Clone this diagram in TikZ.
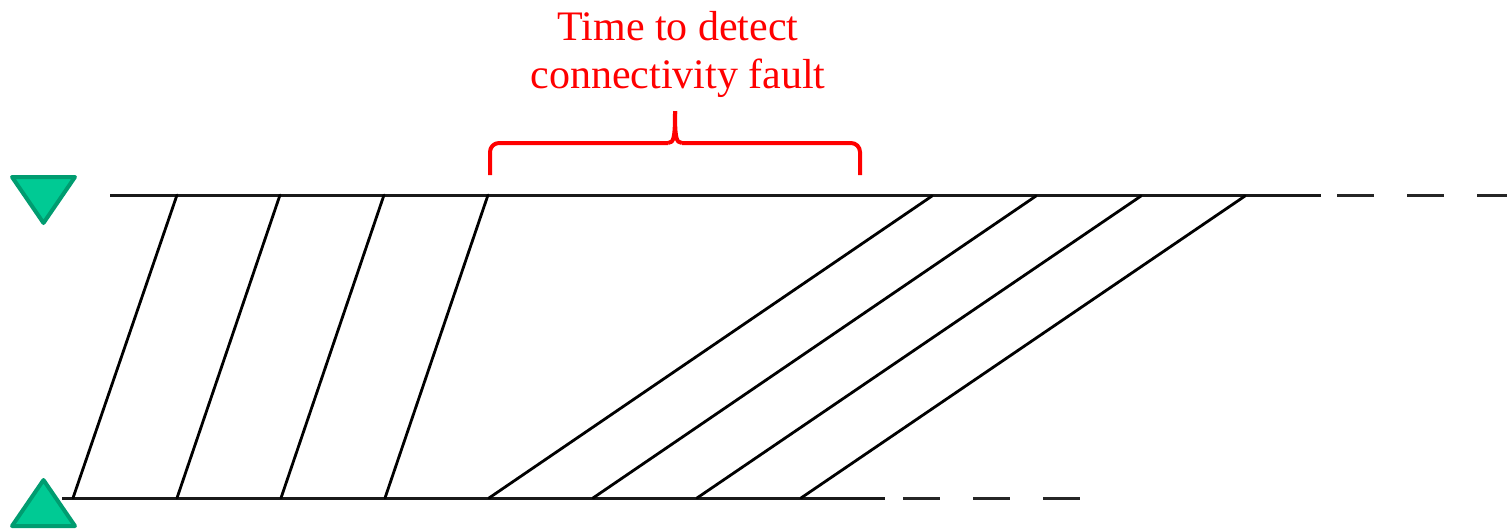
\documentclass[tikz,border=0pt]{standalone}
\usepackage{fontspec}
\setmainfont{Liberation Serif}
\definecolor{trifill}{RGB}{0,202,148}
\definecolor{triedge}{RGB}{0,156,112}
\definecolor{bracered}{RGB}{255,0,0}
\tikzset{
  msgline/.style={line width=2.8pt, black, line cap=round},
  axisline/.style={line width=3pt, black!90},
  dashline/.style={line width=3pt, black!85, dash pattern=on 37pt off 33pt},
  tri/.style={fill=trifill, draw=triedge, line width=4pt, line join=round},
  bracestyle/.style={draw=bracered, line width=4pt, line join=round},
}
\begin{document}
\begin{tikzpicture}[x=1pt, y=-1pt]
\useasboundingbox (0,0) rectangle (1507,531);
% axes
\coordinate (tL) at (110,195);
\coordinate (tR) at (1321,195);
\coordinate (tD) at (1337,195);
\coordinate (tE) at (1520,195);
\coordinate (bL) at (62,498);
\coordinate (bR) at (885,498);
\coordinate (bD) at (903,498);
\coordinate (bE) at (1080,498);
\draw[axisline] (tL) -- (tR);
\draw[dashline] (tD) -- (tE);
\draw[axisline] (bL) -- (bR);
\draw[dashline] (bD) -- (bE);
% messages, first group
\foreach \i/\bx/\tx in {1/73/177, 2/177/280, 3/281/384, 4/385/488}{
  \coordinate (ab\i) at (\bx,498);
  \coordinate (at\i) at (\tx,195);
  \draw[msgline] (ab\i) -- (at\i);
}
% messages, second group
\foreach \i/\bx/\tx in {1/489/932, 2/593/1036, 3/697/1141, 4/801/1245}{
  \coordinate (bb\i) at (\bx,498);
  \coordinate (bt\i) at (\tx,196);
  \draw[msgline] (bb\i) -- (bt\i);
}
% triangles
\draw[tri] (12,177) -- (75,177) -- (43.5,223) -- cycle;
\draw[tri] (12,526) -- (75,526) -- (43.5,480) -- cycle;
% brace
\coordinate (brL) at (490,175);
\coordinate (brR) at (860,175);
\coordinate (brT) at (675,111);
\draw[bracestyle, rounded corners=9pt] (brL) -- (490,143) -- (668,143);
\draw[bracestyle] (668,143) .. controls (674,143) and (675,137) .. (brT);
\draw[bracestyle, rounded corners=9pt] (brR) -- (860,143) -- (682,143);
\draw[bracestyle] (682,143) .. controls (676,143) and (675,137) .. (brT);
% label
\node[text=bracered, align=center, font=\fontsize{42}{48}\selectfont, anchor=center] (lbl) at (678,54) {Time to detect\\connectivity fault};
\end{tikzpicture}
\end{document}
